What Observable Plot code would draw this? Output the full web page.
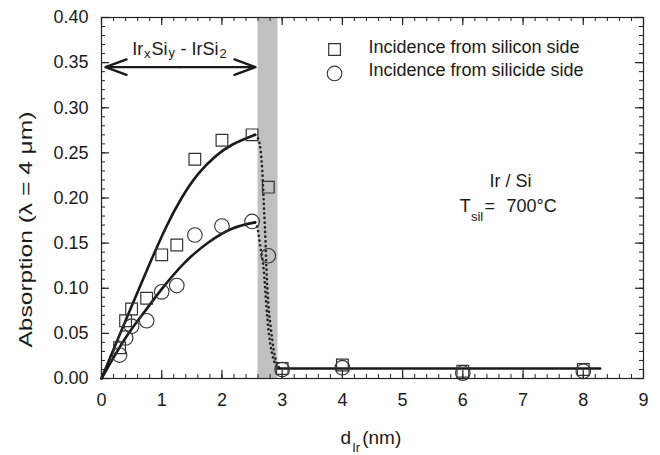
<!DOCTYPE html>
<html><head><meta charset="utf-8">
<script src="https://cdn.jsdelivr.net/npm/d3@7"></script>
<script src="https://cdn.jsdelivr.net/npm/@observablehq/plot@0.6"></script>
<style>body{margin:0;background:#fff} #chart{width:660px;height:455px}</style>
</head><body><div id="chart"></div>
<script>
// ---- data ----
const xSquares = [0.3, 0.4, 0.5, 0.75, 1.0, 1.25, 1.55, 2.0, 2.5, 2.77, 3.0, 4.0, 6.0, 8.0];
const ySquares = [0.034, 0.064, 0.077, 0.089, 0.137, 0.148, 0.243, 0.264, 0.270, 0.212, 0.011, 0.015, 0.008, 0.010];
const xCircles = [0.3, 0.4, 0.5, 0.75, 1.0, 1.25, 1.55, 2.0, 2.5, 2.77, 3.0, 4.0, 6.0, 8.0];
const yCircles = [0.026, 0.045, 0.058, 0.064, 0.096, 0.103, 0.159, 0.169, 0.174, 0.136, 0.010, 0.012, 0.006, 0.008];

// fitted curves (solid)
const xFitSilicon = [0, 0.23, 0.5, 0.78, 1.06, 1.33, 1.61, 1.89, 2.17, 2.55];
const yFitSilicon = [0, 0.037, 0.080, 0.124, 0.166, 0.200, 0.227, 0.246, 0.259, 0.270];
const xFitSilicide = [0, 0.12, 0.39, 0.67, 1.0, 1.39, 1.78, 2.165, 2.55];
const yFitSilicide = [0, 0.014, 0.044, 0.070, 0.099, 0.129, 0.151, 0.166, 0.173];

// dotted transition curves
const xDropSilicon = [2.55, 2.61, 2.67, 2.695, 2.72, 2.74, 2.77, 2.81, 2.86, 2.945];
const yDropSilicon = [0.270, 0.264, 0.230, 0.194, 0.157, 0.120, 0.083, 0.057, 0.031, 0.0125];
const xDropSilicide = [2.55, 2.585, 2.64, 2.695, 2.735, 2.78, 2.835, 2.92];
const yDropSilicide = [0.173, 0.168, 0.145, 0.120, 0.083, 0.0495, 0.027, 0.0125];

// flat level after the transition
const xFlat = [2.92, 8.28];
const yFlat = [0.011, 0.011];

// shaded transition band
const bandStart = 2.6, bandEnd = 2.93;

// ticks
const xTickLabels = [0, 1, 2, 3, 4, 5, 6, 7, 8, 9];
const yTickLabels = [0, 0.05, 0.10, 0.15, 0.20, 0.25, 0.30, 0.35, 0.40];
const xMinorTicks = d3.range(0, 9.0001, 0.2);
const yMinorTicks = d3.range(0, 0.40001, 0.01);

const legendLabels = ["Incidence from silicon side", "Incidence from silicide side"];

// ---- layout ----
const W = 660, H = 455, ML = 101, MR = 17, MT = 17, MB = 77;
const PW = W - ML - MR, PH = H - MT - MB;
const FONT = "'Liberation Sans', Arial, Helvetica, sans-serif";
const INK = "#1a1a1a";

const pts = (xs, ys) => xs.map((x, i) => ({x, y: ys[i]}));
const label = (s, x, y, size, anchor = "start") =>
  Plot.text([s], {x, y, text: d => d, fontSize: size, textAnchor: anchor, lineAnchor: "bottom", fill: INK});

const chart = Plot.plot({
  width: W, height: H,
  marginLeft: ML, marginRight: MR, marginTop: MT, marginBottom: MB,
  x: {domain: [0, 9]},
  y: {domain: [0, 0.40]},
  style: {fontFamily: FONT, fontSize: "18px", color: INK, background: "#fff"},
  marks: [
    Plot.rect([{a: bandStart, b: bandEnd}], {x1: "a", x2: "b", fill: "#c0c0c0"}),

    Plot.line(pts(xDropSilicon, yDropSilicon), {x: "x", y: "y", curve: "monotone-x", stroke: "#222", strokeWidth: 2.6, strokeDasharray: "0.1,4.6", strokeLinecap: "round"}),
    Plot.line(pts(xDropSilicide, yDropSilicide), {x: "x", y: "y", curve: "monotone-x", stroke: "#222", strokeWidth: 2.6, strokeDasharray: "0.1,4.6", strokeLinecap: "round"}),
    Plot.line(pts(xFitSilicon, yFitSilicon), {x: "x", y: "y", curve: "natural", stroke: INK, strokeWidth: 2.6}),
    Plot.line(pts(xFitSilicide, yFitSilicide), {x: "x", y: "y", curve: "natural", stroke: INK, strokeWidth: 2.6}),
    Plot.line(pts(xFlat, yFlat), {x: "x", y: "y", stroke: INK, strokeWidth: 2.6}),

    Plot.dot(pts(xSquares, ySquares), {x: "x", y: "y", symbol: "square", r: 6.6, stroke: "#333", strokeWidth: 1.2, fill: "none"}),
    Plot.dot(pts(xCircles, yCircles), {x: "x", y: "y", symbol: "circle", r: 7.3, stroke: "#333", strokeWidth: 1.1, fill: "none"}),

    // frame and inward ticks on all four sides
    Plot.frame({stroke: "#222", strokeWidth: 1.2}),
    Plot.tickX(xTickLabels, {x: d => d, insetTop: PH - 8, stroke: "#222", strokeWidth: 1.2}),
    Plot.tickX(xMinorTicks, {x: d => d, insetTop: PH - 4, stroke: "#222"}),
    Plot.tickX(xTickLabels, {x: d => d, insetBottom: PH - 8, stroke: "#222", strokeWidth: 1.2}),
    Plot.tickX(xMinorTicks, {x: d => d, insetBottom: PH - 4, stroke: "#222"}),
    Plot.tickY(yTickLabels, {y: d => d, insetRight: PW - 8, stroke: "#222", strokeWidth: 1.2}),
    Plot.tickY(yMinorTicks, {y: d => d, insetRight: PW - 4, stroke: "#222"}),
    Plot.tickY(yTickLabels, {y: d => d, insetLeft: PW - 8, stroke: "#222", strokeWidth: 1.2}),
    Plot.tickY(yMinorTicks, {y: d => d, insetLeft: PW - 4, stroke: "#222"}),

    Plot.axisX({ticks: xTickLabels, tickSize: 0, tickPadding: 15, label: null, fontSize: 18, tickFormat: d => String(d), fill: INK}),
    Plot.axisY({ticks: yTickLabels, tickSize: 0, tickPadding: 13, label: null, fontSize: 18, tickFormat: d3.format(".2f"), fill: INK}),

    // axis titles
    Plot.text(["Absorption (λ = 4 μm)"], {x: -1.245, y: 0.165, rotate: -90, text: d => d, fontSize: 18, fill: INK, textAnchor: "middle"}),
    label("d", 3.969, -0.0731, 19),
    label("Ir", 4.163, -0.0809, 13),
    label("(nm)", 4.329, -0.0731, 19),

    // composition range annotation
    Plot.arrow([{a: 1.31, b: 0.066}, {a: 1.31, b: 2.557}], {x1: "a", x2: "b", y1: 0.345, y2: 0.345, stroke: INK, strokeWidth: 2.4, headLength: 14, headAngle: 40, bend: 0}),
    label("Ir", 0.51, 0.3579, 18),
    label("x", 0.706, 0.3551, 13),
    label("Si", 0.83, 0.3579, 18),
    label("y", 1.113, 0.3557, 13),
    label("- IrSi", 1.312, 0.3579, 18),
    label("2", 1.959, 0.3546, 13),

    // legend
    Plot.dot([0], {x: 3.87, y: 0.3645, symbol: "square", r: 6.6, stroke: "#333", strokeWidth: 1.2, fill: "none"}),
    Plot.dot([0], {x: 3.87, y: 0.338, symbol: "circle", r: 7.3, stroke: "#333", strokeWidth: 1.1, fill: "none"}),
    label(legendLabels[0], 4.434, 0.3609, 18),
    label(legendLabels[1], 4.434, 0.3357, 18),

    // sample annotation
    label("Ir / Si", 6.792, 0.212, 18, "middle"),
    label("T", 5.95, 0.185, 18),
    label("sil", 6.135, 0.1743, 13),
    label("=", 6.36, 0.185, 18),
    label("700°C", 6.725, 0.185, 18)
  ]
});
document.getElementById("chart").append(chart);

// the reference's y title is drawn wider than its glyph height suggests
for (const t of chart.querySelectorAll("text")) {
  if (t.textContent.startsWith("Absorption")) {
    t.setAttribute("textLength", "236");
    t.setAttribute("lengthAdjust", "spacingAndGlyphs");
  }
}
</script>
</body></html>
